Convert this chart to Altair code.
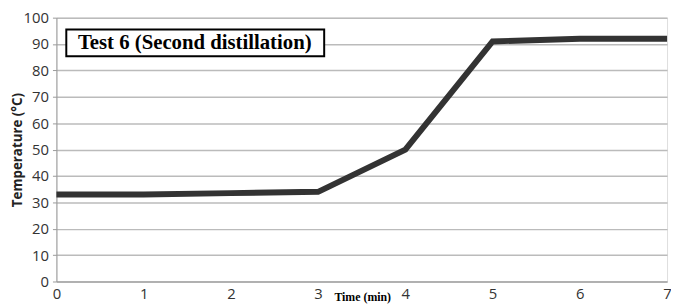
import altair as alt
import pandas as pd

time_min = [0, 1, 2, 3, 4, 5, 6, 7]
temperature = [33, 33, 33.5, 34, 50, 91, 92, 92]
title_text = "Test 6 (Second distillation)"
x_title = "Time (min)"
y_title = "Temperature (°C)"

df = pd.DataFrame({"t": time_min, "temp": temperature})

W, H = 618, 267

line = alt.Chart(df).mark_line(color="#333333", strokeWidth=6, strokeJoin="miter").encode(
    x=alt.X("t:Q", scale=alt.Scale(domain=[0, 7], nice=False),
            axis=alt.Axis(values=time_min, title=None, grid=False, labelFontSize=15,
                          labelFont="Open Sans", labelColor="#333333", domainColor="#999999",
                          tickSize=0, labelPadding=5, labelFlush=False)),
    y=alt.Y("temp:Q", scale=alt.Scale(domain=[0, 100], nice=False),
            axis=alt.Axis(values=list(range(0, 101, 10)), title=y_title, titleFontSize=13.5,
                          titleFont="Open Sans", titleFontWeight="bold", titleColor="#222222",
                          titleX=-39, titleBaseline="middle",
                          labelFontSize=15, labelFont="Open Sans", labelColor="#333333",
                          gridColor="#bbbbbb", gridWidth=1.5, domainColor="#999999",
                          tickColor="#999999", tickSize=4, labelPadding=4)),
)

box = alt.Chart(pd.DataFrame({"label": [title_text]})).mark_rect(
    fill="white", stroke="black", strokeWidth=2
).encode(x=alt.value(10), x2=alt.value(271), y=alt.value(12), y2=alt.value(39))

box_text = alt.Chart(pd.DataFrame({"label": [title_text]})).mark_text(
    font="Liberation Serif", fontWeight="bold", fontSize=21, color="black",
    align="center", baseline="middle"
).encode(text="label:N", x=alt.value(140), y=alt.value(26))

xt = alt.Chart(pd.DataFrame({"label": [x_title]})).mark_text(
    font="Liberation Serif", fontWeight="bold", fontSize=12, color="black",
    align="center", baseline="middle"
).encode(text="label:N", x=alt.value(310), y=alt.value(283))

chart = alt.layer(line, box, box_text, xt).properties(
    width=W, height=H,
    autosize=alt.AutoSizeParams(type="none"),
    padding={"left": 49, "top": 8, "right": 4, "bottom": 22},
).configure_view(stroke=None).configure(background="white")

chart.save("out.html", embed_options={"renderer": "svg", "actions": False})
